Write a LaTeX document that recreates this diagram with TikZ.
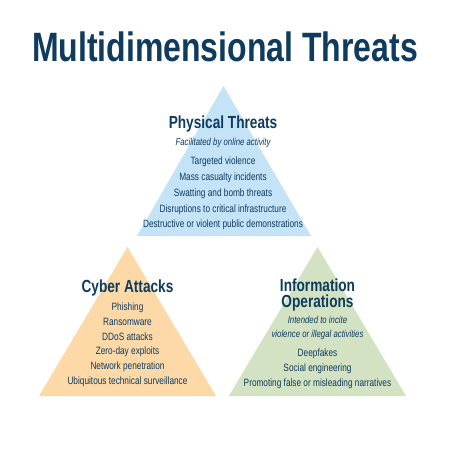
\documentclass[tikz,border=0pt]{standalone}
\usepackage{fontspec}
\setmainfont{Liberation Sans}[FakeStretch=0.78]
\definecolor{navy}{HTML}{0E3B5E}
\definecolor{tblue}{HTML}{C5E3F6}
\definecolor{torange}{HTML}{FDD9A8}
\definecolor{tgreen}{HTML}{D3E2C3}
\begin{document}
\begin{tikzpicture}[x=1pt,y=-1pt,
  ttl/.style={text=navy,font=\bfseries\fontsize{41}{41}\selectfont,inner sep=0pt},
  head/.style={text=navy,font=\bfseries\fontsize{17.5}{16.6}\selectfont,inner sep=0pt,align=center},
  sub/.style={text=navy,font=\itshape\fontsize{10}{14}\selectfont,inner sep=0pt,align=center},
  item/.style={text=navy,font=\fontsize{10.6}{10.6}\selectfont,inner sep=0pt}]
\useasboundingbox[fill=white] (0,0) rectangle (450,450);
% triangles
\fill[tblue] (223.5,86) -- (311,236) -- (137,236) -- cycle;
\fill[torange] (127.5,247) -- (216,396) -- (39,396) -- cycle;
\fill[tgreen] (317.5,247) -- (406,396) -- (229,396) -- cycle;
% title
\node[ttl] (title) at (225,47) {Multidimensional Threats};
% physical
\node[head] (ph) at (223,124) {Physical Threats};
\node[sub] (phs) at (223,143) {Facilitated by online activity};
\node[item] (p1) at (223,162) {Targeted violence};
\node[item] (p2) at (223,178) {Mass casualty incidents};
\node[item] (p3) at (223,194) {Swatting and bomb threats};
\node[item] (p4) at (223,209.5) {Disruptions to critical infrastructure};
\node[item] (p5) at (223,225) {Destructive or violent public demonstrations};
% cyber
\node[head] (ch) at (127.5,288) {Cyber Attacks};
\node[item] (c1) at (127.5,307.5) {Phishing};
\node[item] (c2) at (127.5,322) {Ransomware};
\node[item] (c3) at (127.5,337) {DDoS attacks};
\node[item] (c4) at (127.5,352) {Zero-day exploits};
\node[item] (c5) at (127.5,367) {Network penetration};
\node[item] (c6) at (127.5,382) {Ubiquitous technical surveillance};
% information
\node[head] (ih) at (317.5,295) {Information\\Operations};
\node[sub] (is) at (317.5,328) {Intended to incite\\violence or illegal activities};
\node[item] (i1) at (317.5,353.5) {Deepfakes};
\node[item] (i2) at (317.5,368.5) {Social engineering};
\node[item] (i3) at (317.5,383.5) {Promoting false or misleading narratives};
\end{tikzpicture}
\end{document}
